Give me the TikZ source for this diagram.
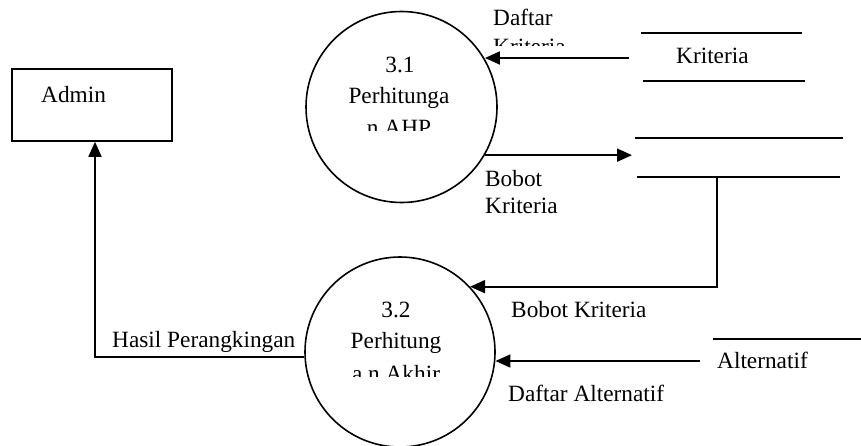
\documentclass[tikz,border=0pt]{standalone}
\usepackage{fontspec}
\setmainfont{Liberation Serif}
\usetikzlibrary{arrows.meta,calc}
\begin{document}
\begin{tikzpicture}[x=1pt,y=-1pt,
  txt/.style={inner sep=0pt, font=\fontsize{23.3}{31}\selectfont},
  lft/.style={txt, anchor=base west},
  ctr/.style={txt, anchor=base},
  proc/.style={draw, circle, line width=1.6pt, inner sep=0pt},
  ent/.style={draw, rectangle, line width=1.6pt, inner sep=0pt},
  flow/.style={line width=1.8pt, -{Triangle[length=15pt,width=13pt]}},
  storeline/.style={line width=1.6pt}]
\useasboundingbox (0,0) rectangle (861,445);

% processes
\node[proc, minimum size=191pt] (p1) at (401.5,107) {};
\node[proc, minimum size=190pt] (p2) at (400,352) {};

% external entity
\node[ent, minimum width=160pt, minimum height=72pt] (admin) at (92,105) {};
\node[lft] (adminT) at (41,102) {Admin};

% process texts
\node[ctr] (p1a) at (400,72) {3.1};
\node[ctr] (p1b) at (399,103) {Perhitunga};
\begin{scope}
  \clip (320,112) rectangle (480,130);
  \node[ctr] (p1c) at (399,135.5) {n AHP};
\end{scope}
\node[ctr] (p2a) at (396,317) {3.2};
\node[ctr] (p2b) at (396,348) {Perhitung};
\begin{scope}
  \clip (320,358) rectangle (480,376.5);
  \node[ctr] (p2c) at (396,381.5) {a n Akhir};
\end{scope}

% data stores
\coordinate (k1a) at (641,33);  \coordinate (k1b) at (802,33);
\coordinate (k2a) at (643,81);  \coordinate (k2b) at (805,81);
\draw[storeline] (k1a) -- (k1b);
\draw[storeline] (k2a) -- (k2b);
\node[lft] (krT) at (676,63) {Kriteria};

\coordinate (b1a) at (635,138); \coordinate (b1b) at (843,138);
\coordinate (b2a) at (637,177); \coordinate (b2b) at (840,177);
\draw[storeline] (b1a) -- (b1b);
\draw[storeline] (b2a) -- (b2b);

\coordinate (a1a) at (713,339); \coordinate (a1b) at (861,339);
\draw[storeline] (a1a) -- (a1b);
\node[lft] (altT) at (717,368) {Alternatif};

% flows
\coordinate (krOut) at (629,58);
\draw[flow] (krOut) -- (krOut -| p1.30.9);
\node[lft] (dk1) at (493,25) {Daftar};
\begin{scope}
  \clip (480,30) rectangle (600,45.5);
  \node[lft] (dk2) at (493,54) {Kriteria};
\end{scope}

\coordinate (bbIn) at (632,155);
\draw[flow] (p1.-30.2) -- (bbIn |- p1.-30.2);
\node[lft] (bb1) at (485,186) {Bobot};
\node[lft] (bb2) at (485,213) {Kriteria};

\coordinate (s2v) at (717,177);
\draw[flow] (s2v) -- (s2v |- p2.43.2) -- (p2.43.2);
\node[lft] (bk) at (511,317) {Bobot Kriteria};

\coordinate (altOut) at (700,361);
\draw[flow] (altOut) -- (altOut -| p2.-5.4);
\node[lft] (da) at (508,401) {Daftar Alternatif};

\draw[flow] (p2.183.6) -| ([xshift=3pt]admin.south);
\node[lft] (hp) at (112,347) {Hasil Perangkingan};
\end{tikzpicture}
\end{document}
